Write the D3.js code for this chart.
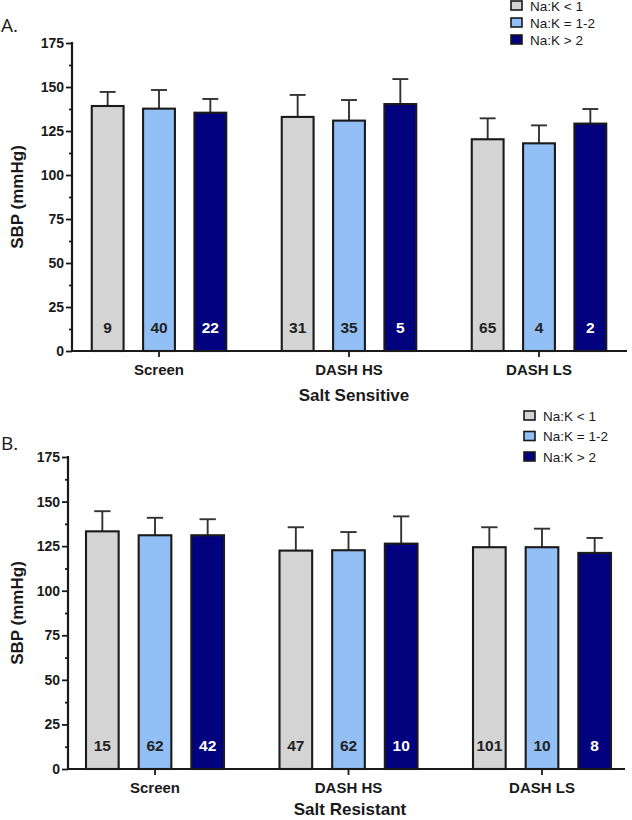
<!DOCTYPE html>
<html>
<head>
<meta charset="utf-8">
<script src="https://cdn.jsdelivr.net/npm/d3@7"></script>
<style>
  body { margin: 0; background: #fff; }
  svg { display: block; font-family: "Liberation Sans", Arial, sans-serif; }
</style>
</head>
<body>
<svg id="chart" width="632" height="820"></svg>
<script>
// categories and series
var groups = ["Screen", "DASH HS", "DASH LS"];
var series = ["Na:K < 1", "Na:K = 1-2", "Na:K > 2"];
var yTicks = [0, 25, 50, 75, 100, 125, 150, 175];

// panel A - salt sensitive (mean, SD, n) per group x series
var ssMean = [[139.2, 137.7, 135.4], [133.0, 130.9, 140.3], [120.3, 118.0, 129.2]];
var ssSD   = [[8.0, 10.6, 7.8], [12.5, 11.7, 14.2], [11.9, 10.2, 8.3]];
var ssN    = [[9, 40, 22], [31, 35, 5], [65, 4, 2]];

// panel B - salt resistant
var srMean = [[133.3, 131.1, 131.1], [122.5, 122.7, 126.4], [124.4, 124.4, 121.2]];
var srSD   = [[11.3, 9.8, 9.0], [13.1, 10.2, 15.3], [11.2, 10.4, 8.4]];
var srN    = [[15, 62, 42], [47, 62, 10], [101, 10, 8]];

var colors = ["#d4d4d4", "#92c0f6", "#02027f"];
var countColors = ["#222", "#222", "#fff"];

var svg = d3.select("#chart");

function drawPanel(p) {
    var g = svg.append("g");

    var y = d3.scaleLinear().domain([0, 175]).range([p.bottom, p.top]);

    var x = d3.scaleBand()
        .domain(groups)
        .range([p.groupCenter0 - p.step / 2, p.groupCenter0 + p.step * 2.5])
        .paddingInner(0);

    var xs = d3.scaleBand()
        .domain(series)
        .range([-p.inner, p.inner])
        .paddingInner(0.38)
        .paddingOuter(0.19);

    var z = d3.scaleOrdinal().domain(series).range(colors);

    // flatten data
    var rows = [];
    groups.forEach(function (gName, gi) {
        series.forEach(function (s, si) {
            rows.push({group: gName, key: s, si: si,
                mean: p.mean[gi][si], sd: p.sd[gi][si], n: p.n[gi][si]});
        });
    });

    var cx = function (d) {
        return x(d.group) + x.bandwidth() / 2 + xs(d.key);
    };

    // error bars (upper only)
    var eb = g.append("g").attr("stroke", "#333").attr("stroke-width", 1.9);
    eb.selectAll("line.v")
        .data(rows).enter().append("line")
        .attr("class", "v")
        .attr("x1", function (d) { return cx(d) + xs.bandwidth() / 2; })
        .attr("x2", function (d) { return cx(d) + xs.bandwidth() / 2; })
        .attr("y1", function (d) { return y(d.mean); })
        .attr("y2", function (d) { return y(d.mean + d.sd); });
    eb.selectAll("line.c")
        .data(rows).enter().append("line")
        .attr("class", "c")
        .attr("x1", function (d) { return cx(d) + xs.bandwidth() / 4; })
        .attr("x2", function (d) { return cx(d) + xs.bandwidth() * 3 / 4; })
        .attr("y1", function (d) { return y(d.mean + d.sd); })
        .attr("y2", function (d) { return y(d.mean + d.sd); });

    // bars
    g.append("g").selectAll("rect")
        .data(rows).enter().append("rect")
        .attr("x", cx)
        .attr("y", function (d) { return y(d.mean); })
        .attr("width", xs.bandwidth())
        .attr("height", function (d) { return y(0) - y(d.mean); })
        .attr("fill", function (d) { return z(d.key); })
        .attr("stroke", "#1a1a1a")
        .attr("stroke-width", 2.1);

    // n labels
    g.append("g").selectAll("text")
        .data(rows).enter().append("text")
        .attr("x", function (d) { return cx(d) + xs.bandwidth() / 2; })
        .attr("y", y(0) - 18)
        .attr("text-anchor", "middle")
        .attr("font-size", "15.5px")
        .attr("font-weight", "bold")
        .attr("fill", function (d) { return countColors[d.si]; })
        .text(function (d) { return d.n; });

    // y axis
    var yAxis = g.append("g")
        .attr("transform", "translate(" + p.left + ",0)")
        .call(d3.axisLeft(y).tickValues(yTicks).tickSize(6).tickPadding(2));
    yAxis.selectAll("text")
        .attr("font-size", "14px")
        .attr("font-weight", "bold")
        .attr("fill", "#1a1a1a")
        .attr("font-family", "Liberation Sans, Arial, sans-serif");

    var minor = g.append("g")
        .attr("transform", "translate(" + p.left + ",0)")
        .call(d3.axisLeft(y).tickValues(d3.range(12.5, 175, 25)).tickSize(3).tickFormat(""));
    minor.select(".domain").remove();

    g.selectAll(".tick line").attr("stroke", "#1a1a1a").attr("stroke-width", 1.8);
    yAxis.select(".domain").attr("stroke", "#1a1a1a").attr("stroke-width", 2.2)
        .attr("d", "M0," + (y(175) - 1) + "V" + y(0));

    // x axis
    var xAxis = g.append("g")
        .attr("transform", "translate(0," + y(0) + ")")
        .call(d3.axisBottom(x).tickSize(6).tickPadding(7));
    xAxis.select(".domain").remove();
    xAxis.selectAll(".tick line").attr("stroke", "#1a1a1a").attr("stroke-width", 1.8);
    xAxis.selectAll("text")
        .attr("font-size", "15px")
        .attr("font-weight", "bold")
        .attr("fill", "#1a1a1a")
        .attr("font-family", "Liberation Sans, Arial, sans-serif");
    g.append("line")
        .attr("x1", p.left - 1).attr("x2", p.right)
        .attr("y1", y(0)).attr("y2", y(0))
        .attr("stroke", "#1a1a1a").attr("stroke-width", 2.2);

    // axis titles
    g.append("text")
        .attr("transform", "translate(" + p.yTitleX + "," + ((y(0) + y(175)) / 2) + ") rotate(-90)")
        .attr("text-anchor", "middle")
        .attr("dy", "0.35em")
        .attr("font-size", "17px")
        .attr("font-weight", "bold")
        .attr("fill", "#1a1a1a")
        .text("SBP (mmHg)");

    g.append("text")
        .attr("x", p.xTitleX)
        .attr("y", p.xTitleY)
        .attr("text-anchor", "middle")
        .attr("font-size", "17px")
        .attr("font-weight", "bold")
        .attr("fill", "#1a1a1a")
        .text(p.xTitle);

    // panel letter
    g.append("text")
        .attr("x", 1)
        .attr("y", p.letterY)
        .attr("font-size", "19px")
        .attr("font-family", "Open Sans, sans-serif")
        .attr("fill", "#1a1a1a")
        .text(p.letter);

    // legend
    var legend = g.append("g")
        .selectAll("g")
        .data(series)
        .enter().append("g")
        .attr("transform", function (d, i) {
            return "translate(" + p.legendX + "," + (p.legendY + i * p.legendStep) + ")";
        });
    legend.append("rect")
        .attr("x", 0)
        .attr("y", -5)
        .attr("width", 11)
        .attr("height", 9)
        .attr("fill", z)
        .attr("stroke", "#1a1a1a")
        .attr("stroke-width", 1.6);
    legend.append("text")
        .attr("x", 19)
        .attr("y", 0)
        .attr("dy", "0.35em")
        .attr("font-size", "13.5px")
        .attr("fill", "#1a1a1a")
        .text(function (d) { return d; });
}

drawPanel({
    letter: "A.", letterY: 32,
    mean: ssMean, sd: ssSD, n: ssN,
    top: 43, bottom: 351, left: 72, right: 627,
    groupCenter0: 159, step: 190, inner: 77,
    yTitleX: 17, xTitle: "Salt Sensitive", xTitleX: 354, xTitleY: 401,
    legendX: 511, legendY: 6, legendStep: 17
});

drawPanel({
    letter: "B.", letterY: 450,
    mean: srMean, sd: srSD, n: srN,
    top: 457, bottom: 769, left: 68, right: 625,
    groupCenter0: 155, step: 193.5, inner: 79,
    yTitleX: 17, xTitle: "Salt Resistant", xTitleX: 350, xTitleY: 815,
    legendX: 524, legendY: 416, legendStep: 20.5
});
</script>
</body>
</html>
